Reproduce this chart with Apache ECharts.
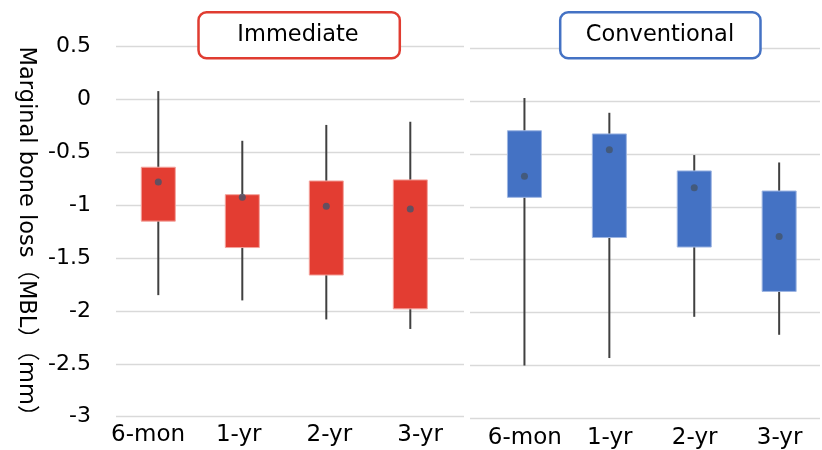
<!DOCTYPE html>
<html>
<head>
<meta charset="utf-8">
<script src="https://cdn.jsdelivr.net/npm/echarts@6/dist/echarts.min.js"></script>
<style>
html,body{margin:0;padding:0;background:#fff;}
#chart{width:822px;height:450px;}
</style>
</head>
<body>
<div id="chart"></div>
<script>
// ---- data ----
const categories = ['6-mon', '1-yr', '2-yr', '3-yr'];
const panelTitles = ['Immediate', 'Conventional'];
const yAxisName = 'Marginal bone loss（MBL）（mm）';

const immediateMax  = [0.08, -0.39, -0.24, -0.21];
const immediateQ3   = [-0.64, -0.90, -0.77, -0.76];
const immediateQ1   = [-1.15, -1.40, -1.66, -1.98];
const immediateMin  = [-1.85, -1.90, -2.08, -2.17];
const immediateMean = [-0.78, -0.925, -1.01, -1.035];

const conventionalMax  = [0.03, -0.11, -0.51, -0.58];
const conventionalQ3   = [-0.28, -0.31, -0.66, -0.85];
const conventionalQ1   = [-0.91, -1.29, -1.38, -1.80];
const conventionalMin  = [-2.50, -2.43, -2.04, -2.21];
const conventionalMean = [-0.71, -0.46, -0.82, -1.28];

const yMin = -3, yMax = 0.5, yStep = 0.5;

// ---- styles ----
const RED = '#E33D32', RED_EDGE = '#F3A39D';
const BLUE = '#4472C4', BLUE_EDGE = '#9DB5E2';
const FONT = '"DejaVu Sans", "Noto Sans CJK JP", sans-serif';

function boxData(mx, q3, q1, mn) {
  return categories.map((c, i) => [i, mx[i], q3[i], q1[i], mn[i]]);
}
function renderer(fill, edge) {
  return function (params, api) {
    const i = api.value(0);
    const pMax = api.coord([i, api.value(1)]);
    const pQ3 = api.coord([i, api.value(2)]);
    const pQ1 = api.coord([i, api.value(3)]);
    const pMin = api.coord([i, api.value(4)]);
    const w = 34;
    return {
      type: 'group',
      children: [
        { type: 'line', shape: { x1: pMax[0], y1: pMax[1], x2: pMin[0], y2: pMin[1] },
          style: { stroke: '#404040', lineWidth: 2 } },
        { type: 'rect', shape: { x: pQ3[0] - w / 2, y: pQ3[1], width: w, height: pQ1[1] - pQ3[1] },
          style: { fill: fill, stroke: edge, lineWidth: 1 } }
      ]
    };
  };
}

const gridTopL = 46.7, gridTopR = 48.3, gridH = 370;

const grids = [
  // left panel: gridlines, boxes, labels
  { left: 116, top: gridTopL, width: 348, height: gridH },
  { left: 116.3, top: gridTopL, width: 336, height: gridH },
  { left: 102.7, top: gridTopL, width: 362.7, height: gridH },
  // right panel
  { left: 470, top: gridTopR, width: 350, height: gridH },
  { left: 482, top: gridTopR, width: 339.6, height: gridH },
  { left: 482.4, top: gridTopR, width: 361.6, height: gridH }
];

function xAx(gi, showLabels, margin) {
  return {
    type: 'category', gridIndex: gi, data: categories,
    show: showLabels,
    axisLine: { show: false }, axisTick: { show: false },
    axisLabel: { show: showLabels, interval: 0, hideOverlap: false, margin: margin,
                 fontSize: 23, fontFamily: FONT, color: '#000' },
    splitLine: { show: false }
  };
}
function yAx(gi, showLines, showLabels) {
  return {
    type: 'value', gridIndex: gi, min: yMin, max: yMax, interval: yStep,
    show: showLines || showLabels,
    axisLine: { show: false }, axisTick: { show: false },
    axisLabel: { show: showLabels, margin: 25, fontSize: 22, fontFamily: FONT, color: '#000' },
    splitLine: { show: showLines, lineStyle: { color: '#D9D9D9', width: 1.3 } }
  };
}

const option = {
  backgroundColor: '#fff',
  animation: false,
  grid: grids,
  xAxis: [xAx(0, false, 7), xAx(1, false, 7), xAx(2, true, 7),
          xAx(3, false, 8), xAx(4, false, 8), xAx(5, true, 8)],
  yAxis: [yAx(0, true, true), yAx(1, false, false), yAx(2, false, false),
          yAx(3, true, false), yAx(4, false, false), yAx(5, false, false)],
  series: [
    { type: 'custom', xAxisIndex: 1, yAxisIndex: 1, renderItem: renderer(RED, RED_EDGE),
      encode: { x: 0, y: [1, 2, 3, 4] }, data: boxData(immediateMax, immediateQ3, immediateQ1, immediateMin), z: 2 },
    { type: 'scatter', xAxisIndex: 1, yAxisIndex: 1, data: immediateMean, symbolSize: 7,
      itemStyle: { color: '#44546A' }, z: 5 },
    { type: 'custom', xAxisIndex: 4, yAxisIndex: 4, renderItem: renderer(BLUE, BLUE_EDGE),
      encode: { x: 0, y: [1, 2, 3, 4] }, data: boxData(conventionalMax, conventionalQ3, conventionalQ1, conventionalMin), z: 2 },
    { type: 'scatter', xAxisIndex: 4, yAxisIndex: 4, data: conventionalMean, symbolSize: 7,
      itemStyle: { color: '#44546A' }, z: 5 }
  ],
  graphic: [
    { type: 'rect', z: 100, shape: { x: 198.5, y: 12.2, width: 201.3, height: 46, r: 8 },
      style: { fill: '#fff', stroke: '#E03C31', lineWidth: 2.5 } },
    { type: 'text', z: 101, x: 298, y: 35,
      style: { text: panelTitles[0], font: '22.5px ' + FONT, fill: '#000', textAlign: 'center', textVerticalAlign: 'middle' } },
    { type: 'rect', z: 100, shape: { x: 560.2, y: 12.2, width: 200.3, height: 46, r: 8 },
      style: { fill: '#fff', stroke: '#4472C4', lineWidth: 2.5 } },
    { type: 'text', z: 101, x: 660, y: 35,
      style: { text: panelTitles[1], font: '22.5px ' + FONT, fill: '#000', textAlign: 'center', textVerticalAlign: 'middle' } },
    { type: 'text', z: 101, x: 26, y: 237, rotation: -Math.PI / 2,
      style: { text: yAxisName, font: '22.5px ' + FONT, fill: '#000', textAlign: 'center', textVerticalAlign: 'middle' } }
  ]
};

const chart = echarts.init(document.getElementById('chart'), null, { renderer: 'canvas' });
chart.setOption(option);
</script>
</body>
</html>
